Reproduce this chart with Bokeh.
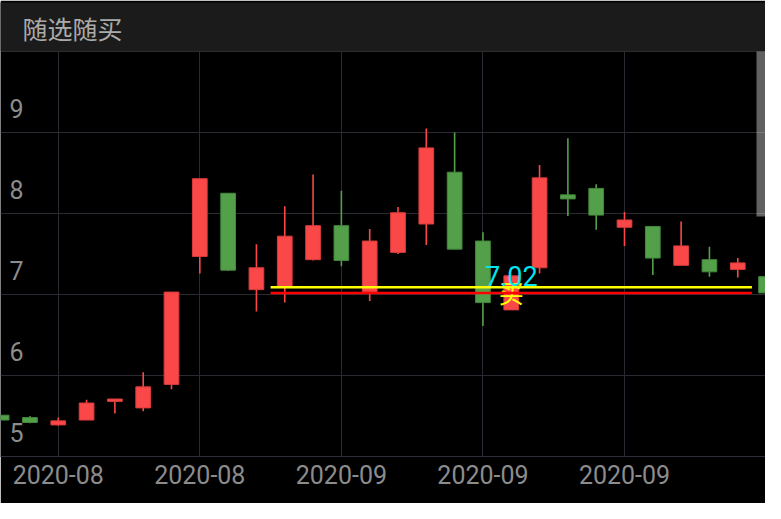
from bokeh.plotting import figure
from bokeh.models import FixedTicker, ColumnDataSource, Range1d, BoxAnnotation
from bokeh.core.properties import value
from bokeh.embed import file_html
from bokeh.resources import INLINE

# ---------------- data ----------------
title_text = "随选随买"
dates = ["2020-08-20", "2020-08-21", "2020-08-24", "2020-08-25", "2020-08-26", "2020-08-27",
         "2020-08-28", "2020-08-31", "2020-09-01", "2020-09-02", "2020-09-03", "2020-09-04",
         "2020-09-07", "2020-09-08", "2020-09-09", "2020-09-10", "2020-09-11", "2020-09-14",
         "2020-09-15", "2020-09-16", "2020-09-17", "2020-09-18", "2020-09-21", "2020-09-22",
         "2020-09-23", "2020-09-24", "2020-09-25", "2020-09-28"]
opens  = [5.51, 5.48, 5.39, 5.45, 5.68, 5.60, 5.89, 7.47, 8.25, 7.06, 7.10, 7.43, 7.85, 7.03,
          7.52, 7.87, 8.51, 7.66, 6.81, 7.33, 8.23, 8.31, 7.83, 7.84, 7.36, 7.43, 7.31, 7.22]
closes = [5.45, 5.42, 5.44, 5.66, 5.71, 5.86, 7.03, 8.43, 7.30, 7.33, 7.72, 7.85, 7.42, 7.66,
          8.01, 8.81, 7.56, 6.90, 7.23, 8.44, 8.18, 7.98, 7.92, 7.45, 7.60, 7.28, 7.39, 7.02]
highs  = [5.51, 5.50, 5.48, 5.70, 5.71, 6.04, 7.03, 8.43, 8.25, 7.62, 8.09, 8.48, 8.28, 7.81,
          8.08, 9.05, 9.00, 7.77, 7.23, 8.60, 8.93, 8.36, 8.02, 7.84, 7.90, 7.59, 7.45, 7.29]
lows   = [5.45, 5.41, 5.38, 5.45, 5.53, 5.56, 5.83, 7.26, 7.29, 6.79, 6.90, 7.42, 7.35, 6.92,
          7.50, 7.61, 7.56, 6.61, 6.81, 7.26, 7.97, 7.80, 7.60, 7.24, 7.36, 7.22, 7.21, 7.00]
y_ticks = [5, 6, 7, 8, 9]
x_tick_idx = [2, 7, 12, 17, 22]
buy_date = "2020-09-15"
buy_price = 7.02
ref_price = 7.09
line_first, line_last = "2020-09-03", "2020-09-25"

# ---------------- styling ----------------
W, H = 765, 503
TITLE_H = 52
RED, RED_EDGE = "#FA4848", "#D83C3C"
GREEN, GREEN_EDGE = "#54A04A", "#43883C"
GRID = "#2A2A32"
LABEL = "#8C8C8C"

n = len(dates)
xs = list(range(n))
up = [c >= o for o, c in zip(opens, closes)]
src = ColumnDataSource(dict(
    x=xs,
    top=[max(o, c) for o, c in zip(opens, closes)],
    bottom=[min(o, c) for o, c in zip(opens, closes)],
    high=highs, low=lows,
    fill=[RED if u else GREEN for u in up],
    edge=[RED_EDGE if u else GREEN_EDGE for u in up],
))

p = figure(width=W, height=H, x_range=Range1d(-0.04, 26.98), y_range=Range1d(5, 10),
           output_backend="svg", toolbar_location=None, y_axis_location=None,
           min_border_left=0, min_border_right=0, min_border_top=0, min_border_bottom=47,
           background_fill_color="black", border_fill_color="black",
           outline_line_color=None)

# title bar
p.title.text = title_text
p.title.text_font = "Noto Sans CJK SC"
p.title.text_font_size = "25px"
p.title.text_font_style = "normal"
p.title.text_color = "#ABABAB"
p.title.align = "left"
p.title.offset = 0
p.title.standoff = 0
p.title.background_fill_color = "#1B1B1B"
p.title.padding = dict(left=22, right=900, top=7, bottom=6)

# grids
p.xgrid.ticker = FixedTicker(ticks=x_tick_idx)
p.ygrid.ticker = FixedTicker(ticks=y_ticks + [10])
p.xgrid.grid_line_color = GRID
p.ygrid.grid_line_color = GRID

# x axis
ax = p.xaxis[0]
ax.ticker = FixedTicker(ticks=x_tick_idx)
ax.major_label_overrides = {i: dates[i][:7] for i in x_tick_idx}
ax.major_label_text_font = "Roboto"
ax.major_label_text_font_size = "25px"
ax.major_label_text_color = LABEL
ax.major_label_standoff = 8
ax.major_tick_line_color = None
ax.minor_tick_line_color = None
ax.major_tick_out = 0
ax.axis_line_color = "#302E38"

# y labels inside plot, sitting above their grid lines
p.text(x=[-0.04] * len(y_ticks), y=y_ticks, text=[str(t) for t in y_ticks],
       x_offset=9, y_offset=-24, text_font=value("Roboto"), text_font_size="25px",
       text_color=LABEL, text_align="left", text_baseline="middle")

# candles
p.segment(x0="x", y0="high", x1="x", y1="low", source=src, line_color="fill", line_width=1.6)
p.vbar(x="x", top="top", bottom="bottom", width=0.52, source=src,
       fill_color="fill", line_color="edge", line_width=1)

# buy marker text
bi = dates.index(buy_date)
p.text(x=[bi], y=[buy_price], text=["买"], text_font=value("Noto Sans CJK SC"),
       text_font_size="25px", text_color="#FFFF00", text_align="center",
       text_baseline="middle", y_offset=-1)

# price lines
i0, i1 = dates.index(line_first) - 0.5, dates.index(line_last) + 0.5
p.segment(x0=[i0, i0], y0=[ref_price, buy_price], x1=[i1, i1], y1=[ref_price, buy_price],
          line_color=["#FFFF00", "#FF0000"], line_width=2.5)

p.text(x=[bi], y=[buy_price], text=[f"{buy_price:.2f}"], text_font=value("Roboto"),
       text_font_size="27px", text_color="#00E5EE", text_align="center",
       text_baseline="middle", y_offset=-17)

# page scrollbar thumb at the right edge
frame_h = H - TITLE_H - 47
p.add_layout(BoxAnnotation(left=W - 9, right=W, top=frame_h + TITLE_H, bottom=frame_h - 164,
                           left_units="screen", right_units="screen",
                           top_units="screen", bottom_units="screen",
                           fill_color="white", fill_alpha=0.38, line_color=None,
                           level="overlay"))

open("out.html", "w").write(file_html(p, INLINE))
